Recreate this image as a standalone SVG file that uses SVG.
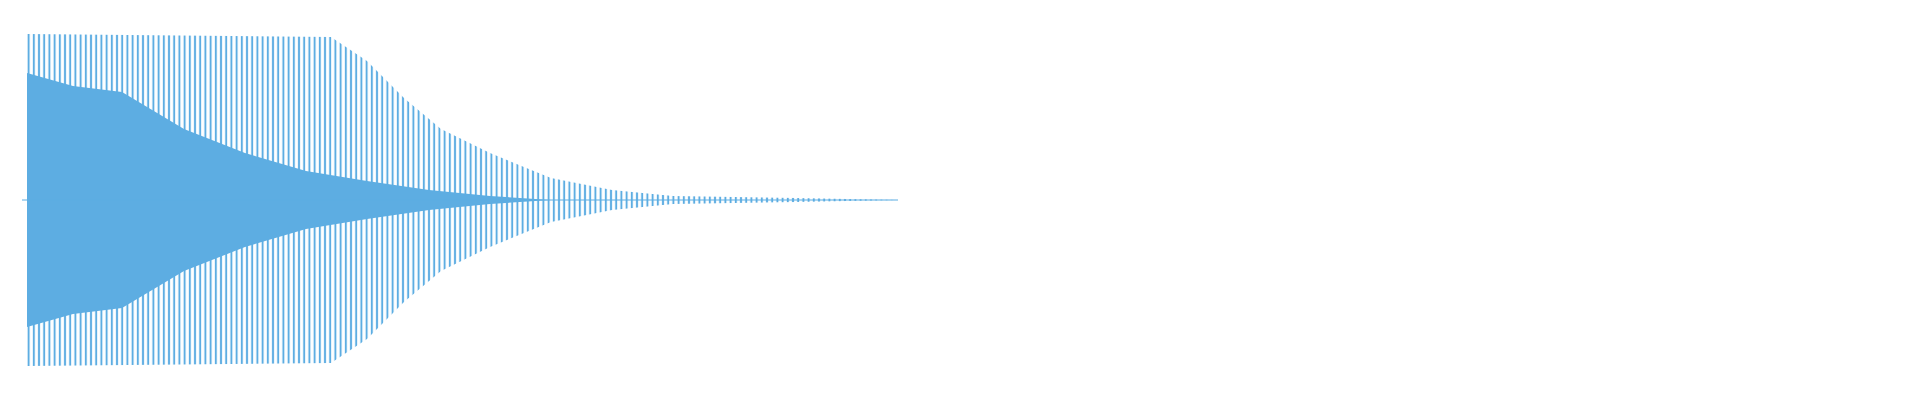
<svg xmlns="http://www.w3.org/2000/svg" width="1920" height="400" viewBox="0 0 1920 400">
<defs>
<pattern id="p" width="5.2" height="400" patternUnits="userSpaceOnUse">
<rect x="1.6" y="0" width="2" height="400" fill="#5DADE2"/>
</pattern>
<clipPath id="outer"><path d="M27,34 L331,37 L367,61 L404,98 L441,129 L490,153 L551,178 L612,190 L673,196 L796,198 L898,200 L796,202 L673,204 L612,210 L551,222 L490,247 L441,271 L404,302 L367,339 L331,363 L27,366 Z"/></clipPath>
</defs>
<rect width="1920" height="400" fill="#fff"/>
<g id="wave">
<rect x="27" y="30" width="875" height="340" fill="url(#p)" clip-path="url(#outer)"/>
<path d="M27,73 L73,86 L122,92 L184,129 L245,153 L306,171 L367,181 L429,190 L490,196 L551,200 L490,204 L429,210 L367,219 L306,229 L245,247 L184,271 L122,308 L73,314 L27,327 Z" fill="#5DADE2"/>
<line x1="22" y1="200" x2="898" y2="200" stroke="#5DADE2" stroke-width="1"/>
</g>
</svg>
